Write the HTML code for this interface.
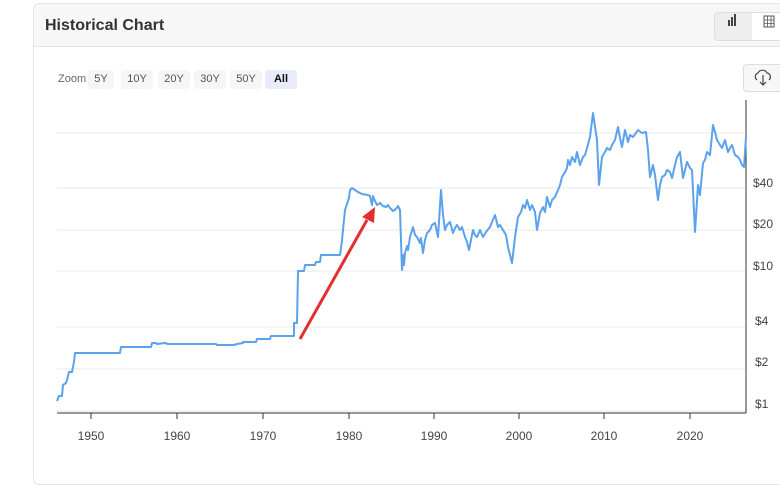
<!DOCTYPE html>
<html><head><style>
body{margin:0;width:780px;height:456px;background:#fff;font-family:"Liberation Sans",sans-serif;overflow:hidden;position:relative}
.card{position:absolute;left:33px;top:3px;width:760px;height:480px;border:1px solid #e6e6e6;border-radius:6px}
.hdr{position:absolute;left:0;top:0;right:0;height:42px;background:#f7f7f7;border-bottom:1px solid #e4e4e4;border-radius:6px 6px 0 0}
.title{position:absolute;left:11px;top:13px;font-size:16px;font-weight:bold;color:#333}
.tg{position:absolute;left:680px;top:8px;width:80px;height:27px;border:1px solid #ddd;border-radius:4px;background:#eee}
.tg2{position:absolute;left:37px;top:0;width:43px;height:27px;background:#fff}
.z{position:absolute;top:73px;font-size:11px;color:#666}
.zb{position:absolute;top:70px;height:19px;line-height:19px;font-size:11px;color:#555;background:#f6f6f6;border-radius:3px;text-align:center}
.dl{position:absolute;left:743px;top:64px;width:40px;height:26px;border:1px solid #ddd;border-radius:4px;background:#f7f7f7}
</style></head><body>
<div class="card"><div class="hdr"><div class="title">Historical Chart</div>
<div class="tg"><div class="tg2"></div></div></div></div>
<div class="z" style="left:58px">Zoom</div>
<div class="zb" style="left:88px;width:26px">5Y</div>
<div class="zb" style="left:121px;width:32px">10Y</div>
<div class="zb" style="left:158px;width:32px">20Y</div>
<div class="zb" style="left:194px;width:32px">30Y</div>
<div class="zb" style="left:230px;width:32px">50Y</div>
<div class="zb" style="left:265px;width:32px;background:#e8ebfa;color:#111;font-weight:bold">All</div>
<div class="dl"></div>
<svg width="780" height="456" style="position:absolute;left:0;top:0">
<g fill="#444"><rect x="728" y="20" width="2" height="6"/><rect x="731" y="17" width="2" height="9"/><rect x="734" y="14" width="2" height="12"/></g>
<rect x="764" y="16" width="10" height="11" fill="none" stroke="#555"/><path d="M764 20h10M764 23.5h10M767.5 16v11M771 16v11" stroke="#555" stroke-width="0.8"/>
<path d="M757 80a4 4 0 0 1 1-7a5 5 0 0 1 9 0a4 4 0 0 1 2 7M763 75v10M760 82l3 3l3-3" fill="none" stroke="#444" stroke-width="1.2"/>
<g stroke="#e8e8e8" stroke-width="1">
<path d="M57 133H746M57 188H746M57 230H746M57 271H746M57 327H746M57 369H746M57 411H746"/></g>
<path d="M746 100V413M57 413H746" stroke="#333" stroke-width="1"/>
<g stroke="#333"><path d="M91 413v6M177 413v6M263 413v6M349 413v6M434 413v6M519 413v6M604 413v6M690 413v6"/></g>
<g font-size="12" fill="#444" text-anchor="middle"><text x="91" y="440">1950</text><text x="177" y="440">1960</text><text x="263" y="440">1970</text><text x="349" y="440">1980</text><text x="434" y="440">1990</text><text x="519" y="440">2000</text><text x="604" y="440">2010</text><text x="690" y="440">2020</text></g>
<g font-size="12" fill="#444"><text x="753" y="187">$40</text><text x="753" y="228">$20</text><text x="753" y="270">$10</text><text x="755" y="325">$4</text><text x="755" y="366">$2</text><text x="755" y="408">$1</text></g>
<polyline fill="none" stroke="#5aa2ee" stroke-width="2" stroke-linejoin="round" points="57,401 59,396 62,396 63,385 66,383 67,380 69,372 72,372 74,362 75,353 120,353 121,347 151,347 152,343 156,343 157,344 165,343 168,344 216,344 217,345 234,345 237,344 243,343 243,342 256,342 257,339 270,339 271,336 294,336 294,323 297,323 298,271 304,271 305,265 315,265 316,262 320,262 321,255 340,255 341,248 342,240 345,210 349,198 350,190 352,188 355,190 358,192 362,194 368,195 370,196 372,205 373,196 375,201 377,205 380,203 383,206 386,207 388,205 390,208 393,211 396,209 398,206 400,210 402,270 403,255 404,265 405,253 407,246 408,250 410,237 413,227 415,235 417,237 420,243 421,238 423,253 425,240 427,233 430,230 432,225 435,223 438,237 441,190 443,215 445,230 447,225 450,222 453,233 455,228 457,225 460,230 462,227 465,237 467,242 469,250 471,240 473,230 475,235 477,237 480,230 483,237 486,232 490,227 492,222 495,215 498,227 500,225 503,230 506,235 508,247 510,255 512,263 515,237 518,217 521,212 523,205 525,208 527,200 530,210 532,205 535,212 537,230 540,213 543,207 545,212 547,197 550,207 552,200 555,197 558,190 560,185 562,177 565,172 567,168 568,160 570,165 572,157 575,162 577,152 580,165 583,157 585,155 587,148 590,137 593,113 597,140 599,185 602,157 605,152 607,148 610,150 612,145 615,140 618,127 620,138 622,147 625,130 628,142 630,135 633,137 636,133 638,130 642,133 646,132 648,150 650,177 653,165 655,175 658,200 660,185 662,177 665,175 667,170 670,172 672,178 675,165 677,157 680,152 683,178 685,170 687,162 690,168 692,170 695,232 698,185 700,195 703,163 705,160 707,152 710,155 713,125 715,132 717,140 720,145 722,148 725,140 728,152 730,148 732,145 735,155 738,157 740,160 742,165 744,167 746,137"/>
<line x1="300" y1="339" x2="367" y2="220" stroke="#e03030" stroke-width="3"/>
<polygon points="375,207 362,217 374,223" fill="#e03030"/>
</svg>
</body></html>
